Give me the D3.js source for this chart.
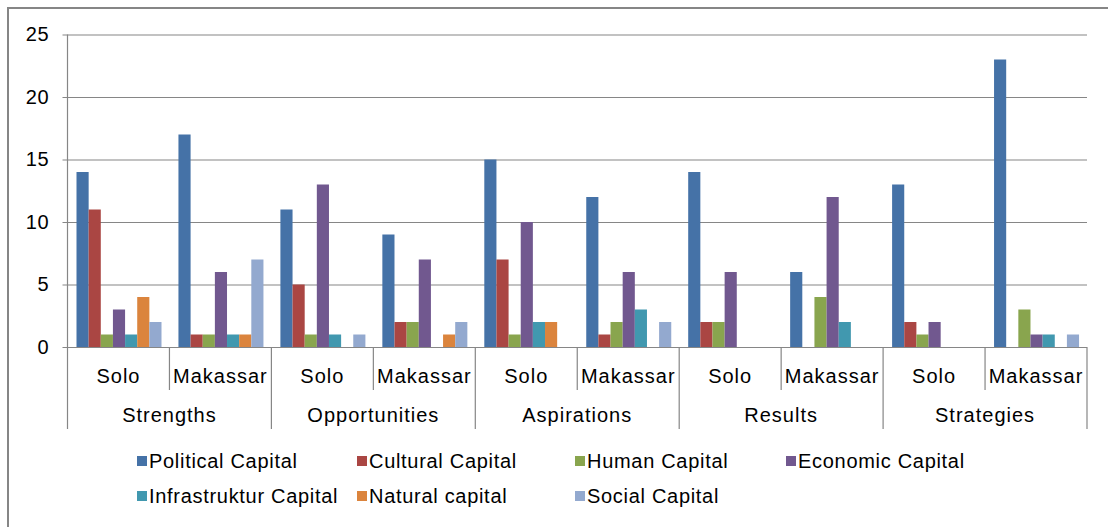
<!DOCTYPE html>
<html>
<head>
<meta charset="utf-8">
<script src="https://cdn.jsdelivr.net/npm/d3@7"></script>
<style>
  body { margin: 0; background: #fff; }
  text { font-family: "Liberation Sans", Arial, sans-serif; fill: #000; }
</style>
</head>
<body>
<div id="chart"></div>
<script>
// categories
const groups = ["Strengths", "Opportunities", "Aspirations", "Results", "Strategies"];
const cities = ["Solo", "Makassar"];
const seriesNames = ["Political Capital", "Cultural Capital", "Human Capital", "Economic Capital",
                     "Infrastruktur Capital", "Natural capital", "Social Capital"];
const seriesColors = ["#4572A7", "#AA4643", "#89A54E", "#71588F", "#4198AF", "#DB843D", "#93A9CF"];

// values, one per group/city in order (Solo, Makassar for each group)
const political      = [14, 17, 11, 9, 15, 12, 14, 6, 13, 23];
const cultural       = [11, 1, 5, 2, 7, 1, 2, 0, 2, 0];
const human          = [1, 1, 1, 2, 1, 2, 2, 4, 1, 3];
const economic       = [3, 6, 13, 7, 10, 6, 6, 12, 2, 1];
const infrastruktur  = [1, 1, 1, 0, 2, 3, 0, 2, 0, 1];
const natural        = [4, 1, 0, 1, 2, 0, 0, 0, 0, 0];
const social         = [2, 7, 1, 2, 0, 2, 0, 0, 0, 1];

const yTicks = [0, 5, 10, 15, 20, 25];

const allSeries = [political, cultural, human, economic, infrastruktur, natural, social];

// keys for each bar group
const keys = [];
groups.forEach(g => cities.forEach(c => keys.push(g + "|" + c)));

const W = 1108, H = 527;
const plotLeft = 67.5, plotRight = 1087, plotTop = 34.5, plotBottom = 347;
const grey = "#868686";

const svg = d3.select("#chart").append("svg")
  .attr("width", W).attr("height", H);

// outer frame
svg.append("rect")
  .attr("x", 8).attr("y", 8)
  .attr("width", 1200).attr("height", 600)
  .attr("fill", "none").attr("stroke", grey).attr("stroke-width", 2);

const x0 = d3.scaleBand().domain(keys).range([plotLeft, plotRight]).padding(0);
const x1 = d3.scaleBand().domain(d3.range(seriesNames.length)).range([9, 94]).padding(0);
const y = d3.scaleLinear().domain([0, 25]).range([plotBottom, plotTop]);

// y axis with gridlines
const yAxis = svg.append("g")
  .attr("transform", `translate(${plotLeft},0)`)
  .call(d3.axisLeft(y).tickValues(yTicks).tickSize(0).tickPadding(18));
yAxis.select(".domain").remove();
yAxis.selectAll(".tick line")
  .attr("x1", -5).attr("x2", plotRight - plotLeft)
  .attr("stroke", grey).attr("stroke-width", 1.2);
yAxis.selectAll(".tick text")
  .attr("font-size", "20px")
  .attr("letter-spacing", "0.8px")
  .attr("font-family", "Liberation Sans, Arial, sans-serif")
  .attr("fill", "#000");

// y axis line
svg.append("line")
  .attr("x1", plotLeft).attr("x2", plotLeft)
  .attr("y1", plotTop).attr("y2", plotBottom)
  .attr("stroke", grey).attr("stroke-width", 1.2);

// bars
allSeries.forEach((vals, si) => {
  svg.append("g")
    .selectAll("rect")
    .data(vals)
    .enter().append("rect")
    .attr("x", (d, i) => x0(keys[i]) + x1(si))
    .attr("y", d => y(d))
    .attr("width", x1.bandwidth())
    .attr("height", d => y(0) - y(d))
    .attr("fill", seriesColors[si]);
});

// x axis: city labels
const xAxis = svg.append("g")
  .attr("transform", `translate(0,${plotBottom})`)
  .call(d3.axisBottom(x0).tickSize(0).tickPadding(0).tickFormat(k => k.split("|")[1]));
xAxis.select(".domain").remove();
xAxis.selectAll(".tick text")
  .attr("dy", "36px")
  .attr("font-size", "20px")
  .attr("letter-spacing", "1px")
  .attr("font-family", "Liberation Sans, Arial, sans-serif")
  .attr("fill", "#000");

// separators between cities (short) and groups (long)
const edges = d3.range(keys.length + 1);
svg.append("g").selectAll("line")
  .data(edges)
  .enter().append("line")
  .attr("x1", i => plotLeft + i * x0.bandwidth())
  .attr("x2", i => plotLeft + i * x0.bandwidth())
  .attr("y1", plotBottom)
  .attr("y2", i => i % 2 === 0 ? 429 : 390)
  .attr("stroke", grey).attr("stroke-width", 1.2);

// group labels
const xg = d3.scaleBand().domain(groups).range([plotLeft, plotRight]);
svg.append("g").selectAll("text")
  .data(groups)
  .enter().append("text")
  .attr("x", d => xg(d) + xg.bandwidth() / 2)
  .attr("y", 422)
  .attr("text-anchor", "middle")
  .attr("font-size", "20px")
  .attr("letter-spacing", "1px")
  .text(d => d);

// legend
const legX = [137, 357, 575, 786];
const legY = [461, 496];
const leg = svg.append("g").selectAll("g")
  .data(seriesNames)
  .enter().append("g")
  .attr("transform", (d, i) => `translate(${legX[i % 4]},${legY[Math.floor(i / 4)]})`);
leg.append("rect")
  .attr("x", 0).attr("y", -5)
  .attr("width", 10).attr("height", 10)
  .attr("fill", (d, i) => seriesColors[i]);
leg.append("text")
  .attr("x", 12).attr("y", 7)
  .attr("font-size", "20px")
  .attr("letter-spacing", "0.7px")
  .text(d => d);
</script>
</body>
</html>
